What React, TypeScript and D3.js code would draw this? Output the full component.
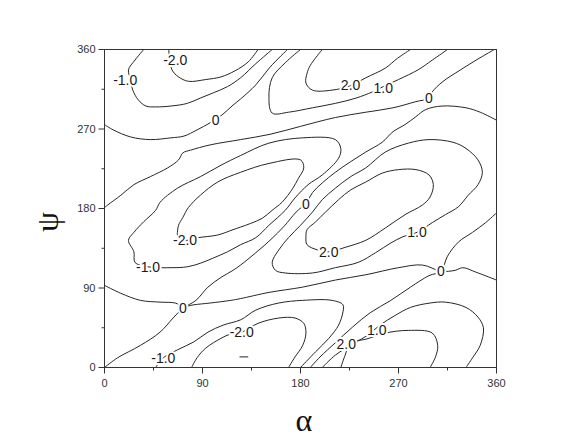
import React from "react";
import * as d3 from "d3";

type Pt = [number, number]; // [alpha, psi] in degrees

// axis ticks
const majorTicks = [0, 90, 180, 270, 360];
const minorTicks = [45, 135, 225, 315];

// contour lines, [alpha, psi]
// level -2.0, top part of the band that wraps round psi = 0/360
const neg2Top: Pt[] = [[59, 360], [62, 337], [68, 329], [77, 324], [93, 326], [107, 329], [120, 336], [132, 346], [141, 360]];
// level -2.0, bottom part of the same band
const neg2Bottom: Pt[] = [[80, 0], [85, 11], [93, 22], [107, 33], [116, 38], [126, 40], [141, 50], [160, 56], [175, 56], [183, 50], [185, 39], [182, 25], [175, 12], [169, 0]];
// level -2.0, closed loop in the middle
const neg2Mid: Pt[] = [[125, 221], [151, 231], [180, 235], [183, 226], [178, 214], [173, 203], [163, 187], [154, 178], [145, 169], [134, 163], [125, 159], [118, 156], [104, 150], [86, 147], [74, 144], [67, 150], [67, 153], [68, 161], [72, 170], [77, 181], [88, 195], [104, 210]];
// tiny loop below -2.0 near the bottom
const neg3Dash: Pt[] = [[124, 12], [132, 12]];

const neg1Top: Pt[] = [[36, 360], [28, 348], [22, 337], [24, 326], [26, 314], [31, 303], [38, 296], [47, 295], [61, 296], [76, 299], [88, 305], [100, 311], [113, 318], [125, 328], [139, 344], [154, 360]];
const neg1Bottom: Pt[] = [[47, 0], [54, 11], [67, 20], [82, 29], [95, 40], [109, 48], [125, 54], [139, 65], [160, 73], [182, 76], [209, 76], [219, 71], [219, 63], [215, 48], [206, 33], [194, 18], [180, 0]];
const neg1Mid: Pt[] = [[28, 119], [27, 131], [22, 144], [27, 153], [36, 165], [47, 178], [51, 187], [67, 203], [88, 216], [107, 229], [125, 240], [151, 254], [182, 260], [212, 258], [217, 248], [215, 237], [200, 218], [187, 207], [175, 192], [166, 178], [151, 161], [139, 147], [125, 139], [113, 131], [100, 124], [88, 118], [76, 114], [62, 113], [40, 114]];

// level 0
const zeroA: Pt[] = [[0, 275], [8, 269], [24, 261], [42, 258], [61, 260], [73, 262], [85, 269], [97, 277], [108, 286], [118, 297], [125, 304], [139, 320], [152, 340], [168, 360]];
const zeroF: Pt[] = [[0, 181], [3, 184], [15, 195], [27, 207], [42, 216], [58, 226], [68, 235], [72, 243], [79, 246], [97, 252], [125, 258], [152, 264], [180, 273], [212, 283], [240, 289], [265, 294], [286, 301], [298, 305], [301, 312], [310, 323], [327, 337], [344, 350], [358, 360]];
const zeroG: Pt[] = [[360, 280], [345, 289], [332, 294], [310, 296], [295, 292], [286, 284], [276, 275], [265, 267], [255, 255], [240, 244], [226, 233], [212, 221], [200, 209], [191, 198], [185, 186], [176, 176], [165, 160], [152, 144], [139, 130], [125, 116], [118, 110], [107, 102], [95, 91], [84, 76], [72, 67], [63, 56], [51, 40], [33, 25], [12, 11], [0, 0]];
const zeroS: Pt[] = [[0, 93], [15, 84], [33, 76], [51, 74], [65, 73], [72, 69], [82, 71], [97, 73], [116, 76], [125, 78], [151, 85], [182, 91], [212, 99], [240, 105], [270, 113], [292, 116], [309, 109], [322, 110], [329, 113], [341, 108], [360, 99]];
const zeroR: Pt[] = [[360, 175], [350, 164], [338, 153], [325, 142], [315, 126], [309, 109], [298, 104], [281, 91], [263, 76], [244, 62], [228, 46], [212, 28], [198, 12], [189, 0]];

// level 1.0
const pos1Top: Pt[] = [[180, 360], [166, 345], [154, 328], [151, 306], [154, 288], [169, 289], [191, 294], [212, 299], [231, 305], [246, 312], [256, 318], [270, 326], [288, 337], [301, 348], [315, 360]];
const pos1Bottom: Pt[] = [[200, 0], [212, 14], [230, 28], [241, 36], [253, 48], [267, 59], [281, 68], [299, 73], [313, 74], [332, 68], [343, 57], [348, 45], [345, 25], [338, 11], [332, 0]];
const pos1Mid: Pt[] = [[154, 119], [157, 110], [166, 107], [191, 107], [212, 113], [233, 119], [249, 130], [263, 141], [274, 148], [287, 153], [301, 164], [313, 173], [325, 182], [334, 195], [343, 207], [347, 221], [343, 235], [332, 248], [320, 255], [298, 258], [279, 254], [258, 244], [240, 226], [226, 216], [212, 203], [200, 190], [191, 176], [180, 161], [169, 147], [160, 133]];

// level 2.0
const pos2Top: Pt[] = [[200, 360], [189, 342], [186, 333], [185, 322], [191, 314], [209, 314], [226, 319], [240, 328], [258, 339], [269, 350], [281, 360]];
const pos2Bottom: Pt[] = [[217, 0], [221, 14], [226, 28], [240, 32], [258, 39], [279, 42], [301, 39], [306, 25], [304, 12], [299, 0]];
const pos2Mid: Pt[] = [[185, 148], [186, 139], [196, 133], [206, 131], [221, 136], [240, 144], [258, 158], [276, 173], [292, 184], [299, 193], [302, 207], [298, 218], [286, 224], [270, 224], [255, 220], [240, 210], [226, 201], [215, 190], [203, 176], [194, 165], [186, 156]];

const openLines = [neg2Top, neg2Bottom, neg3Dash, neg1Top, neg1Bottom, zeroA, zeroF, zeroG, zeroS, zeroR, pos1Top, pos1Bottom, pos2Top, pos2Bottom];
const closedLines = [neg2Mid, neg1Mid, pos1Mid, pos2Mid];

// contour labels
const labelText = ["-2.0", "-1.0", "0", "1.0", "2.0", "0", "0", "-2.0", "-1.0", "0", "2.0", "1.0", "0", "-2.0", "-1.0", "2.0", "1.0"];
const labelAt: Pt[] = [[65, 348], [19, 326], [102, 280], [256, 316], [226, 320], [298, 305], [185, 185], [74, 144], [40, 114], [72, 67], [206, 131], [287, 153], [309, 109], [126, 40], [54, 11], [222, 27], [250, 42]];

export default function App() {
  const x = d3.scaleLinear().domain([0, 360]).range([104.5, 496.5]);
  const y = d3.scaleLinear().domain([0, 360]).range([367.5, 49.5]);

  const openPath = d3.line<Pt>().x(d => x(d[0])).y(d => y(d[1])).curve(d3.curveCatmullRom.alpha(0.5));
  const closedPath = d3.line<Pt>().x(d => x(d[0])).y(d => y(d[1])).curve(d3.curveCatmullRomClosed.alpha(0.5));

  const tickFont = "'Liberation Sans', Arial, sans-serif";
  const greekFont = "'Liberation Serif', 'Times New Roman', serif";

  return (
    <svg width={576} height={441} style={{ position: "absolute", left: 0, top: 0, background: "#fff" }}>
      <defs>
        <clipPath id="plot">
          <rect x={x(0)} y={y(360)} width={x(360) - x(0)} height={y(0) - y(360)} />
        </clipPath>
      </defs>

      <g clipPath="url(#plot)" fill="none" stroke="#262626" strokeWidth={1}>
        {openLines.map((pts, i) => <path key={"o" + i} d={openPath(pts) || ""} />)}
        {closedLines.map((pts, i) => <path key={"c" + i} d={closedPath(pts) || ""} />)}
      </g>

      <g fontFamily={tickFont} fontSize={14} fill="#1a1a1a" textAnchor="middle">
        {labelText.map((t, i) => (
          <text key={i} x={x(labelAt[i][0])} y={y(labelAt[i][1])} dy="0.36em"
            stroke="#fff" strokeWidth={4} paintOrder="stroke" strokeLinejoin="round">{t}</text>
        ))}
      </g>

      <rect x={x(0)} y={y(360)} width={x(360) - x(0)} height={y(0) - y(360)} fill="none" stroke="#333" strokeWidth={1} />

      <g stroke="#333" strokeWidth={1}>
        {majorTicks.map(t => <line key={"xM" + t} x1={x(t)} x2={x(t)} y1={y(0)} y2={y(0) + 6} />)}
        {minorTicks.map(t => <line key={"xm" + t} x1={x(t)} x2={x(t)} y1={y(0)} y2={y(0) + 3} />)}
        {majorTicks.map(t => <line key={"yM" + t} x1={x(0) - 6} x2={x(0)} y1={y(t)} y2={y(t)} />)}
        {minorTicks.map(t => <line key={"ym" + t} x1={x(0) - 3} x2={x(0)} y1={y(t)} y2={y(t)} />)}
      </g>

      <g fontFamily={tickFont} fontSize={11} fill="#333">
        {majorTicks.map(t => <text key={"xl" + t} x={x(t)} y={y(0) + 19} textAnchor="middle">{t}</text>)}
        {majorTicks.map(t => <text key={"yl" + t} x={x(0) - 9} y={y(t)} dy="0.35em" textAnchor="end">{t}</text>)}
      </g>

      <text x={304} y={431} fontFamily={greekFont} fontSize={32} textAnchor="middle" fill="#111">α</text>
      <text transform="translate(58,222) rotate(-90)" fontFamily={greekFont} fontSize={32} textAnchor="middle" fill="#111">ψ</text>
    </svg>
  );
}
